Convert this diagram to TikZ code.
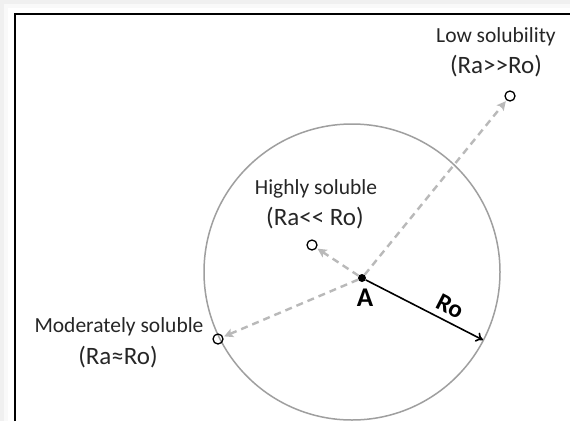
\documentclass[tikz,border=0pt]{standalone}
\usepackage{fontspec}
\setmainfont{Carlito}
\usetikzlibrary{positioning, arrows.meta}

\begin{document}
\begin{tikzpicture}[
  x=1pt, y=-1pt,
  probe/.style={circle, draw, line width=1.3pt, inner sep=0pt, minimum size=10pt},
  centre/.style={circle, fill, inner sep=0pt, minimum size=8pt},
  soltext/.style={text=black!85, inner sep=0pt, font=\fontsize{21.5}{25}\selectfont},
  ratiotext/.style={text=black!85, inner sep=0pt, font=\fontsize{25}{30}\selectfont},
  dashline/.style={draw, gray!55, dash pattern=on 7pt off 5pt, line width=2.4pt,
                   -{Stealth[length=9pt, width=9pt, inset=2pt]}, shorten >=1pt},
  radline/.style={draw, line width=1.6pt, -{To[length=7pt, width=10pt]}}
]
% Frame
\useasboundingbox (0,0) rectangle (570,421);
\fill[gray!12] (0,0) rectangle (570,421);
\fill[gray!5] (4,4) rectangle (570,421);
\fill[white] (8,8) rectangle (570,421);
\draw[line width=2pt] (15,421) -- (15,14) -- (570,14);
% Sphere
\draw[gray!75, line width=1.5pt] (352,272) circle[radius=148pt];
% Nodes
\node[centre] (dot) at (362,278) {};
\node[font=\bfseries\fontsize{27}{30}\selectfont, inner sep=0pt, below=7pt of dot, xshift=3pt] (a) {A};
\node[probe] (high) at (312,245) {};
\node[probe] (low) at (510,96) {};
\node[probe] (mod) at (218,339) {};
\coordinate (rim) at (483,340);
\node[soltext] (lowtxt) at (496,37) {Low solubility};
\node[ratiotext] (lowrat) at (496,66) {(Ra>{}>Ro)};
\node[soltext] (hightxt) at (316,189) {Highly soluble};
\node[ratiotext] (highrat) at (315,218) {(Ra<{}< Ro)};
\node[soltext] (modtxt) at (119,327) {Moderately soluble};
\node[ratiotext] (modrat) at (118,357) {(Ra≈Ro)};
% Edges
\path[dashline] (dot) -- (low);
\path[dashline] (dot) -- (high);
\path[dashline] (dot) -- (mod);
\path[radline] (dot) -- node[pos=0.66, above=6pt, sloped, inner sep=0pt,
  font=\bfseries\fontsize{25}{28}\selectfont]{Ro} (rim);
\end{tikzpicture}
\end{document}
